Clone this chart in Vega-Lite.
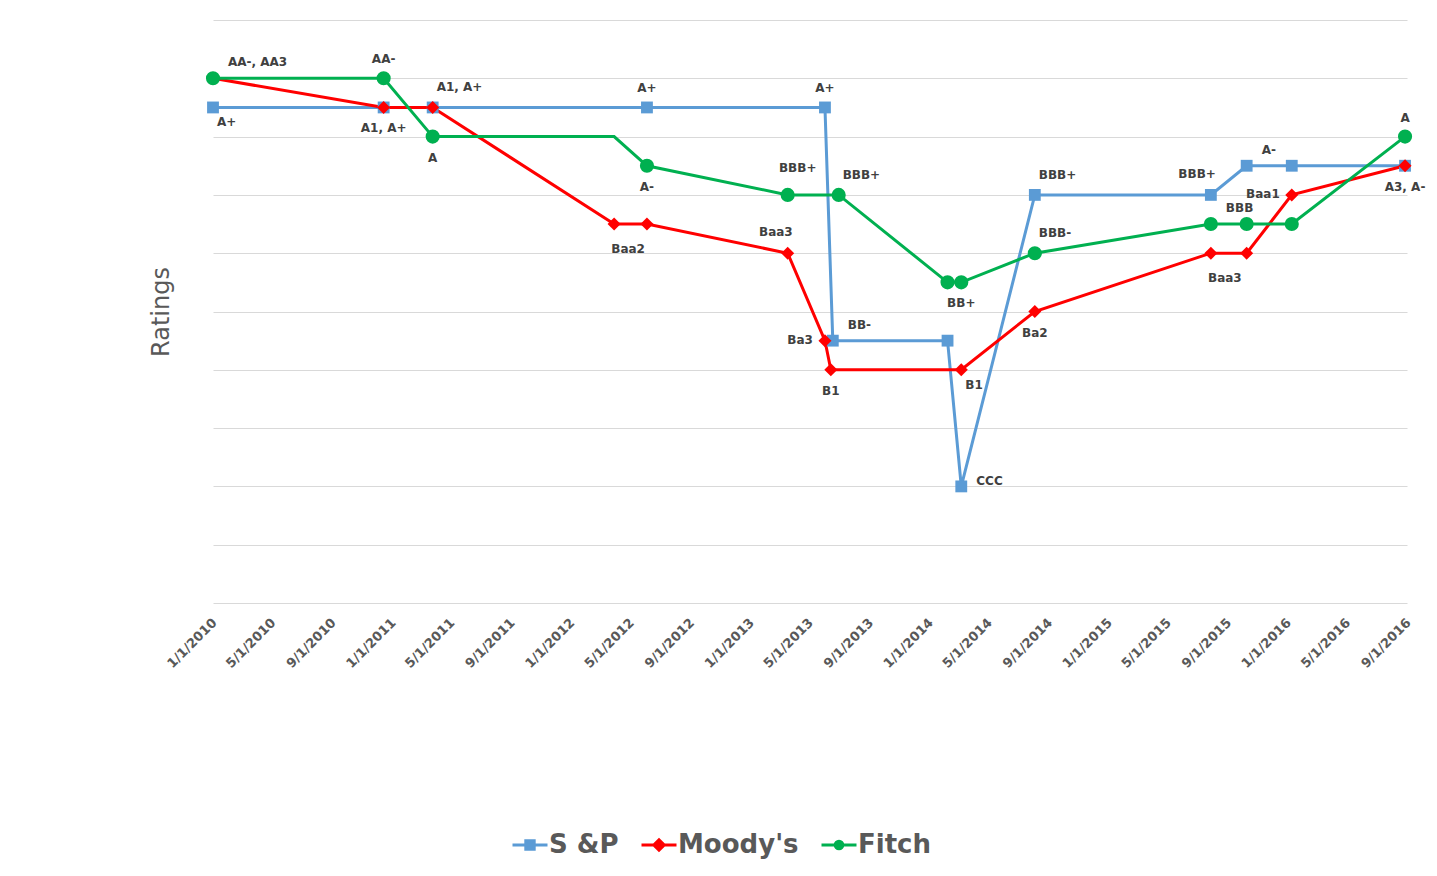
{
  "$schema": "https://vega.github.io/schema/vega-lite/v6.json",
  "width": 1194,
  "height": 583,
  "autosize": {"type": "none"},
  "padding": {"left": 213, "top": 20, "right": 30, "bottom": 273},
  "background": "white",
  "config": {"view": {"stroke": null}, "font": "DejaVu Sans"},
  "datasets": {
    "ratings": [
      {"agency": "S &P", "date": "2010-01-01", "score": 17, "rating": "A+"},
      {"agency": "S &P", "date": "2010-12-15", "score": 17, "rating": "A+"},
      {"agency": "S &P", "date": "2011-03-25", "score": 17, "rating": "A+"},
      {"agency": "S &P", "date": "2012-06-04", "score": 17, "rating": "A+"},
      {"agency": "S &P", "date": "2013-06-02", "score": 17, "rating": "A+"},
      {"agency": "S &P", "date": "2013-06-18", "score": 9, "rating": "BB-"},
      {"agency": "S &P", "date": "2014-02-07", "score": 9, "rating": "BB-"},
      {"agency": "S &P", "date": "2014-03-07", "score": 4, "rating": "CCC"},
      {"agency": "S &P", "date": "2014-08-04", "score": 14, "rating": "BBB+"},
      {"agency": "S &P", "date": "2015-07-29", "score": 14, "rating": "BBB+"},
      {"agency": "S &P", "date": "2015-10-10", "score": 15, "rating": "A-"},
      {"agency": "S &P", "date": "2016-01-10", "score": 15, "rating": "A-"},
      {"agency": "S &P", "date": "2016-08-28", "score": 15, "rating": "A-"},
      {"agency": "Moody's", "date": "2010-01-01", "score": 18, "rating": "AA3"},
      {"agency": "Moody's", "date": "2010-12-15", "score": 17, "rating": "A1"},
      {"agency": "Moody's", "date": "2011-03-25", "score": 17, "rating": "A1"},
      {"agency": "Moody's", "date": "2012-03-29", "score": 13, "rating": "Baa2"},
      {"agency": "Moody's", "date": "2012-06-04", "score": 13, "rating": "Baa2"},
      {"agency": "Moody's", "date": "2013-03-18", "score": 12, "rating": "Baa3"},
      {"agency": "Moody's", "date": "2013-06-02", "score": 9, "rating": "Ba3"},
      {"agency": "Moody's", "date": "2013-06-14", "score": 8, "rating": "B1"},
      {"agency": "Moody's", "date": "2014-03-07", "score": 8, "rating": "B1"},
      {"agency": "Moody's", "date": "2014-08-04", "score": 10, "rating": "Ba2"},
      {"agency": "Moody's", "date": "2015-07-29", "score": 12, "rating": "Baa3"},
      {"agency": "Moody's", "date": "2015-10-10", "score": 12, "rating": "Baa3"},
      {"agency": "Moody's", "date": "2016-01-10", "score": 14, "rating": "Baa1"},
      {"agency": "Moody's", "date": "2016-08-28", "score": 15, "rating": "A3"},
      {"agency": "Fitch", "date": "2010-01-01", "score": 18, "rating": "AA-"},
      {"agency": "Fitch", "date": "2010-12-15", "score": 18, "rating": "AA-"},
      {"agency": "Fitch", "date": "2011-03-25", "score": 16, "rating": "A"},
      {"agency": "Fitch", "date": "2012-03-29", "score": 16, "rating": "A"},
      {"agency": "Fitch", "date": "2012-06-04", "score": 15, "rating": "A-"},
      {"agency": "Fitch", "date": "2013-03-18", "score": 14, "rating": "BBB+"},
      {"agency": "Fitch", "date": "2013-06-30", "score": 14, "rating": "BBB+"},
      {"agency": "Fitch", "date": "2014-02-07", "score": 11, "rating": "BB+"},
      {"agency": "Fitch", "date": "2014-03-07", "score": 11, "rating": "BB+"},
      {"agency": "Fitch", "date": "2014-08-04", "score": 12, "rating": "BBB-"},
      {"agency": "Fitch", "date": "2015-07-29", "score": 13, "rating": "BBB"},
      {"agency": "Fitch", "date": "2015-10-10", "score": 13, "rating": "BBB"},
      {"agency": "Fitch", "date": "2016-01-10", "score": 13, "rating": "BBB"},
      {"agency": "Fitch", "date": "2016-08-28", "score": 16, "rating": "A"}
    ],
    "lblAbove": [
      {"date": "2010-12-15", "score": 18, "label": "AA-"},
      {"date": "2012-06-04", "score": 17, "label": "A+"},
      {"date": "2013-06-02", "score": 17, "label": "A+"},
      {"date": "2016-08-28", "score": 16, "label": "A"}
    ],
    "lblAboveLeft": [
      {"date": "2013-03-18", "score": 12, "label": "Baa3"},
      {"date": "2015-07-29", "score": 14, "label": "BBB+"}
    ],
    "lblAboveHigh": [
      {"date": "2013-03-18", "score": 14, "label": "BBB+"}
    ],
    "lblAboveRight": [
      {"date": "2011-03-25", "score": 17, "label": "A1, A+"},
      {"date": "2014-08-04", "score": 14, "label": "BBB+"},
      {"date": "2013-06-30", "score": 14, "label": "BBB+"},
      {"date": "2014-08-04", "score": 12, "label": "BBB-"}
    ],
    "lblAboveRightFar": [
      {"date": "2010-01-01", "score": 18, "label": "AA-, AA3"},
      {"date": "2013-06-18", "score": 9, "label": "BB-"},
      {"date": "2015-10-10", "score": 15, "label": "A-"},
      {"date": "2015-07-29", "score": 13, "label": "BBB"}
    ],
    "lblBelow": [
      {"date": "2010-12-15", "score": 17, "label": "A1, A+"},
      {"date": "2011-03-25", "score": 16, "label": "A"},
      {"date": "2012-06-04", "score": 15, "label": "A-"},
      {"date": "2013-06-14", "score": 8, "label": "B1"},
      {"date": "2014-03-07", "score": 11, "label": "BB+"},
      {"date": "2016-08-28", "score": 15, "label": "A3, A-"},
      {"date": "2014-08-04", "score": 10, "label": "Ba2"}
    ],
    "lblBelowRight": [
      {"date": "2010-01-01", "score": 17, "label": "A+"},
      {"date": "2014-03-07", "score": 8, "label": "B1"}
    ],
    "lblBelowLeader": [
      {"date": "2012-03-29", "score": 13, "label": "Baa2"},
      {"date": "2015-07-29", "score": 12, "label": "Baa3"}
    ],
    "lblRight": [
      {"date": "2014-03-07", "score": 4, "label": "CCC"}
    ],
    "lblLeft": [
      {"date": "2013-06-02", "score": 9, "label": "Ba3"},
      {"date": "2016-01-10", "score": 14, "label": "Baa1"}
    ]
  },
  "encoding": {
    "x": {
      "field": "date",
      "type": "temporal",
      "scale": {"type": "utc", "domain": [{"year": 2010, "month": 1, "date": 1, "utc": true}, {"year": 2016, "month": 9, "date": 1, "utc": true}]},
      "axis": {
        "title": null,
        "tickCount": {"interval": "month", "step": 4},
        "labelExpr": "utcFormat(datum.value, '%-m/%-d/%Y')",
        "labelOverlap": false,
        "labelAngle": -45,
        "labelFont": "DejaVu Sans",
        "labelFontSize": 13,
        "labelFontWeight": "bold",
        "labelColor": "#595959",
        "labelPadding": 13,
        "labelOffset": -3,
        "grid": false,
        "ticks": false,
        "domain": false
      }
    },
    "y": {
      "field": "score",
      "type": "quantitative",
      "scale": {"domain": [0, 20], "nice": false, "zero": false},
      "axis": {
        "values": [0, 2, 4, 6, 8, 10, 12, 14, 16, 18, 20],
        "labels": false,
        "ticks": false,
        "domain": false,
        "grid": true,
        "gridColor": "#d9d9d9",
        "gridWidth": 1,
        "title": "Ratings",
        "titleFont": "DejaVu Sans",
        "titleFontSize": 24,
        "titleFontWeight": "normal",
        "titleColor": "#595959",
        "titlePadding": 40
      }
    }
  },
  "layer": [
    {
      "data": {"name": "ratings"},
      "mark": {"type": "line", "strokeWidth": 3},
      "encoding": {
        "stroke": {
          "field": "agency",
          "type": "nominal",
          "scale": {"domain": ["S &P", "Moody's", "Fitch"], "range": ["#5B9BD5", "#FF0000", "#00B050"]},
          "legend": {
            "orient": "none",
            "legendX": 298,
            "legendY": 806,
            "direction": "horizontal",
            "title": null,
            "padding": 0,
            "symbolType": "stroke",
            "symbolSize": 1225,
            "symbolStrokeWidth": 3,
            "labelFont": "DejaVu Sans",
            "labelFontSize": 26,
            "labelFontWeight": "bold",
            "labelColor": "#595959",
            "labelOffset": 0,
            "columnPadding": 16,
            "encode": {
              "symbols": {
                "update": {
                  "shape": {"signal": "datum.value === 'S &P' ? 'M-1,0H1M-0.24,-0.24H0.24V0.24H-0.24Z' : datum.value === 'Fitch' ? 'M-1,0H1M-0.22,0A0.22,0.22,0,1,1,0.22,0A0.22,0.22,0,1,1,-0.22,0Z' : 'M-1,0H1M-0.3,0L0,-0.3L0.3,0L0,0.3Z'"},
                  "fill": {"signal": "scale('stroke', datum.value)"},
                  "stroke": {"signal": "scale('stroke', datum.value)"},
                  "strokeWidth": {"value": 3}
                }
              }
            }
          }
        }
      }
    },
    {
      "data": {"name": "ratings"},
      "transform": [{"filter": "!(datum.agency === 'Fitch' && utcyear(toDate(datum.date)) === 2012 && utcmonth(toDate(datum.date)) === 2)"}],
      "mark": {"type": "point", "filled": true, "opacity": 1},
      "encoding": {
        "fill": {
          "field": "agency",
          "type": "nominal",
          "sort": ["S &P", "Moody's", "Fitch"],
          "scale": {"range": ["#5B9BD5", "#FF0000", "#00B050"]},
          "legend": null
        },
        "shape": {
          "field": "agency",
          "type": "nominal",
          "sort": ["S &P", "Moody's", "Fitch"],
          "scale": {"range": ["square", "diamond", "circle"]},
          "legend": null
        },
        "size": {
          "field": "agency",
          "type": "nominal",
          "sort": ["S &P", "Moody's", "Fitch"],
          "scale": {"range": [140, 200, 150]},
          "legend": null
        }
      }
    },
    {
      "data": {"name": "lblAbove"},
      "mark": {"type": "text", "font": "DejaVu Sans", "fontSize": 12, "fontWeight": "bold", "color": "#404040", "align": "center", "baseline": "middle", "dy": -19},
      "encoding": {"text": {"field": "label"}}
    },
    {
      "data": {"name": "lblAboveLeft"},
      "mark": {"type": "text", "font": "DejaVu Sans", "fontSize": 12, "fontWeight": "bold", "color": "#404040", "align": "right", "baseline": "middle", "dx": 5, "dy": -21},
      "encoding": {"text": {"field": "label"}}
    },
    {
      "data": {"name": "lblAboveHigh"},
      "mark": {"type": "text", "font": "DejaVu Sans", "fontSize": 12, "fontWeight": "bold", "color": "#404040", "align": "center", "baseline": "middle", "dx": 10, "dy": -27},
      "encoding": {"text": {"field": "label"}}
    },
    {
      "data": {"name": "lblAboveRight"},
      "mark": {"type": "text", "font": "DejaVu Sans", "fontSize": 12, "fontWeight": "bold", "color": "#404040", "align": "left", "baseline": "middle", "dx": 4, "dy": -20},
      "encoding": {"text": {"field": "label"}}
    },
    {
      "data": {"name": "lblAboveRightFar"},
      "mark": {"type": "text", "font": "DejaVu Sans", "fontSize": 12, "fontWeight": "bold", "color": "#404040", "align": "left", "baseline": "middle", "dx": 15, "dy": -16},
      "encoding": {"text": {"field": "label"}}
    },
    {
      "data": {"name": "lblBelow"},
      "mark": {"type": "text", "font": "DejaVu Sans", "fontSize": 12, "fontWeight": "bold", "color": "#404040", "align": "center", "baseline": "middle", "dy": 21},
      "encoding": {"text": {"field": "label"}}
    },
    {
      "data": {"name": "lblBelowRight"},
      "mark": {"type": "text", "font": "DejaVu Sans", "fontSize": 12, "fontWeight": "bold", "color": "#404040", "align": "left", "baseline": "middle", "dx": 4, "dy": 15},
      "encoding": {"text": {"field": "label"}}
    },
    {
      "data": {"name": "lblBelowLeader"},
      "mark": {"type": "text", "font": "DejaVu Sans", "fontSize": 12, "fontWeight": "bold", "color": "#404040", "align": "center", "baseline": "middle", "dx": 14, "dy": 25},
      "encoding": {"text": {"field": "label"}}
    },
    {
      "data": {"name": "lblRight"},
      "mark": {"type": "text", "font": "DejaVu Sans", "fontSize": 12, "fontWeight": "bold", "color": "#404040", "align": "left", "baseline": "middle", "dx": 15, "dy": -5},
      "encoding": {"text": {"field": "label"}}
    },
    {
      "data": {"name": "lblLeft"},
      "mark": {"type": "text", "font": "DejaVu Sans", "fontSize": 12, "fontWeight": "bold", "color": "#404040", "align": "right", "baseline": "middle", "dx": -12, "dy": -1},
      "encoding": {"text": {"field": "label"}}
    }
  ]
}
